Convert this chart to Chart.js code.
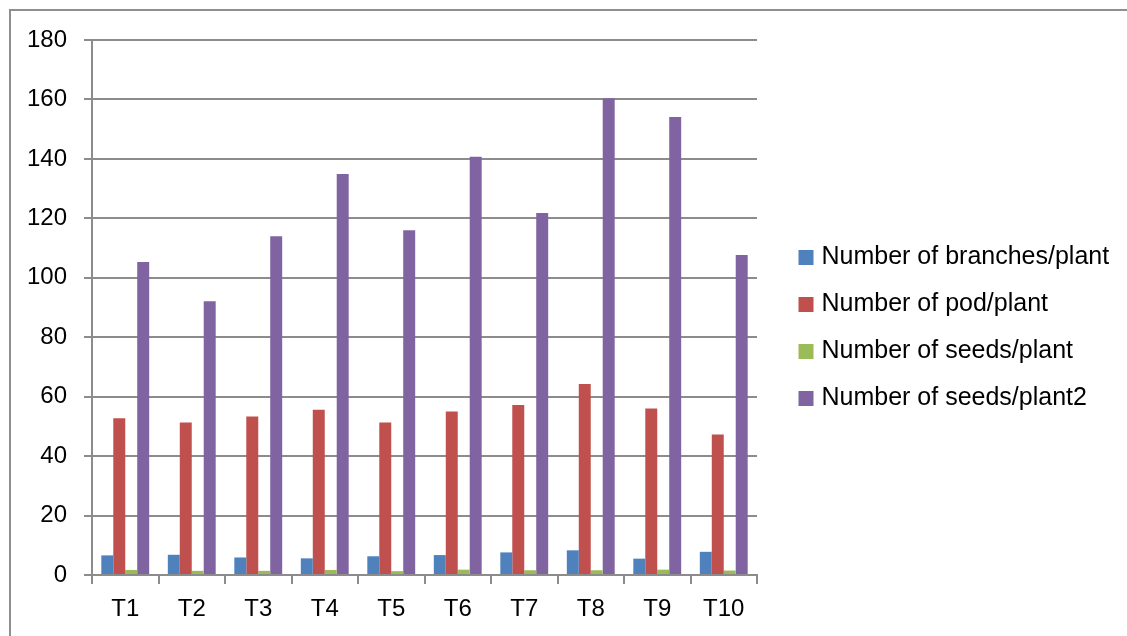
<!DOCTYPE html>
<html>
<head>
<meta charset="utf-8">
<script src="https://cdn.jsdelivr.net/npm/chart.js@4.4.1/dist/chart.umd.min.js"></script>
<style>
  html, body { margin: 0; padding: 0; background: #fff; overflow: hidden; }
  #wrap { position: relative; width: 1127px; height: 636px; }
  #frame { position: absolute; left: 9px; top: 9px; width: 1200px; height: 700px;
           border-top: 2px solid #8f8f8f; border-left: 2px solid #8f8f8f; }
  canvas { position: absolute; left: 0; top: 0; }
</style>
</head>
<body>
<div id="wrap">
  <div id="frame"></div>
  <canvas id="c" width="1127" height="636"></canvas>
</div>
<script>
// Treatments on the category axis
const treatments = ['T1', 'T2', 'T3', 'T4', 'T5', 'T6', 'T7', 'T8', 'T9', 'T10'];

// Series values per treatment
const branchesPerPlant = [6.6, 6.8, 5.9, 5.6, 6.3, 6.7, 7.6, 8.3, 5.5, 7.8];
const podPerPlant      = [52.7, 51.3, 53.3, 55.6, 51.3, 55.0, 57.2, 64.3, 56.0, 47.3];
const seedsPerPlant    = [1.7, 1.4, 1.4, 1.7, 1.3, 1.8, 1.6, 1.6, 1.8, 1.5];
const seedsPerPlant2   = [105.3, 92.1, 114.0, 134.9, 116.0, 140.7, 121.8, 160.4, 154.1, 107.7];

const seriesNames = [
  'Number of branches/plant',
  'Number of pod/plant',
  'Number of seeds/plant',
  'Number of seeds/plant2'
];

// Value axis range
const yMin = 0;
const yMax = 180;
const yStep = 20;

const FONT = '"Liberation Sans", Arial, sans-serif';
const GRID = '#8c8c8c';

// The legend is laid out with the plot area, then moved beside it
const legendPlacement = {
  id: 'legendPlacement',
  afterLayout(chart) {
    const lg = chart.legend;
    const w = lg.width, h = lg.height;
    lg.left = chart.chartArea.right + 24;
    lg.right = lg.left + w;
    lg.top = chart.chartArea.top + 183;
    lg.bottom = lg.top + h;
  }
};

const colors = ['#4F81BD', '#C0504D', '#9BBB59', '#8064A2'];
const values = [branchesPerPlant, podPerPlant, seedsPerPlant, seedsPerPlant2];

new Chart(document.getElementById('c'), {
  type: 'bar',
  data: {
    labels: treatments,
    datasets: seriesNames.map((name, i) => ({
      label: name,
      data: values[i],
      backgroundColor: colors[i],
      borderWidth: 0,
      barPercentage: 1,
      categoryPercentage: 0.72
    }))
  },
  options: {
    responsive: false,
    animation: false,
    devicePixelRatio: 1,
    layout: { padding: { left: 10, top: 40, right: 370, bottom: 10 } },
    plugins: {
      tooltip: { enabled: false },
      legend: {
        position: 'chartArea',
        align: 'start',
        labels: {
          usePointStyle: true,
          pointStyle: 'rect',
          boxWidth: 6,
          boxHeight: 15,
          padding: 22,
          color: '#000',
          font: { family: FONT, size: 25 }
        }
      }
    },
    scales: {
      x: {
        offset: true,
        grid: {
          display: true,
          drawOnChartArea: false,
          drawTicks: true,
          tickLength: 9,
          offset: true,
          color: GRID,
          lineWidth: 2
        },
        border: { display: true, color: GRID, width: 2 },
        ticks: { color: '#000', padding: 11, font: { family: FONT, size: 24 } },
        afterFit(scale) { scale.height = 51; }
      },
      y: {
        min: yMin,
        max: yMax,
        grid: { color: GRID, lineWidth: 2, tickLength: 8, drawTicks: true },
        border: { display: true, color: GRID, width: 2 },
        ticks: { stepSize: yStep, color: '#000', padding: 17, font: { family: FONT, size: 24 } },
        afterFit(scale) { scale.width = 82; }
      }
    }
  },
  plugins: [legendPlacement]
});
</script>
</body>
</html>
